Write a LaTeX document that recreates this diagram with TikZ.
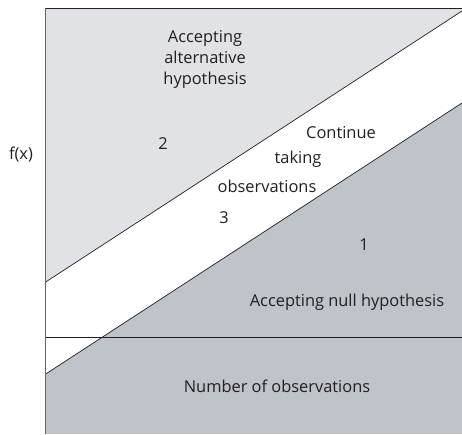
\documentclass[tikz,border=0pt]{standalone}
\usepackage{fontspec}
\setmainfont{Open Sans}
\definecolor{lightreg}{HTML}{E1E2E6}
\definecolor{darkreg}{HTML}{BFC3CA}
\definecolor{ink}{HTML}{231F20}
\begin{document}
\begin{tikzpicture}[x=1pt,y=-1pt,
  lbl/.style={text=ink,font=\fontsize{16.4}{21}\selectfont,inner sep=0pt,align=center},
  bnd/.style={draw=ink,line width=0.7pt}]
\useasboundingbox (0,0) rectangle (462,434);
\coordinate (tl) at (45.7,8);
\coordinate (tr) at (462,8);
\coordinate (ua) at (45.7,282);
\coordinate (ub) at (462,11);
\coordinate (la) at (45.7,374);
\coordinate (lb) at (462,103);
\coordinate (bl) at (45.7,434);
\coordinate (br) at (462,434);
\coordinate (ha) at (45.7,337.3);
\coordinate (hb) at (462,337.3);
\fill[lightreg] (tl) -- (tr) -- (ub) -- (ua) -- cycle;
\fill[darkreg] (la) -- (lb) -- (br) -- (bl) -- cycle;
\draw[bnd] (tl) -- (tr);
\draw[bnd] (ua) -- (ub);
\draw[bnd] (la) -- (lb);
\draw[bnd] (ha) -- (hb);
\draw[draw=ink!70,line width=1.1pt] (tl) -- (bl);
\node[lbl] (alt) at (205,59) {Accepting\\alternative\\hypothesis};
\node[lbl] (fx) at (21,155) {f(x)};
\node[lbl] (two) at (163,144) {2};
\node[lbl] (cont) at (341,133) {Continue};
\node[lbl] (tak) at (298,159) {taking};
\node[lbl] (obs) at (267,186) {observations};
\node[lbl] (three) at (224,218) {3};
\node[lbl] (one) at (364,245) {1};
\node[lbl] (null) at (347,302) {Accepting null hypothesis};
\node[lbl] (num) at (277,386) {Number of observations};
\end{tikzpicture}
\end{document}
